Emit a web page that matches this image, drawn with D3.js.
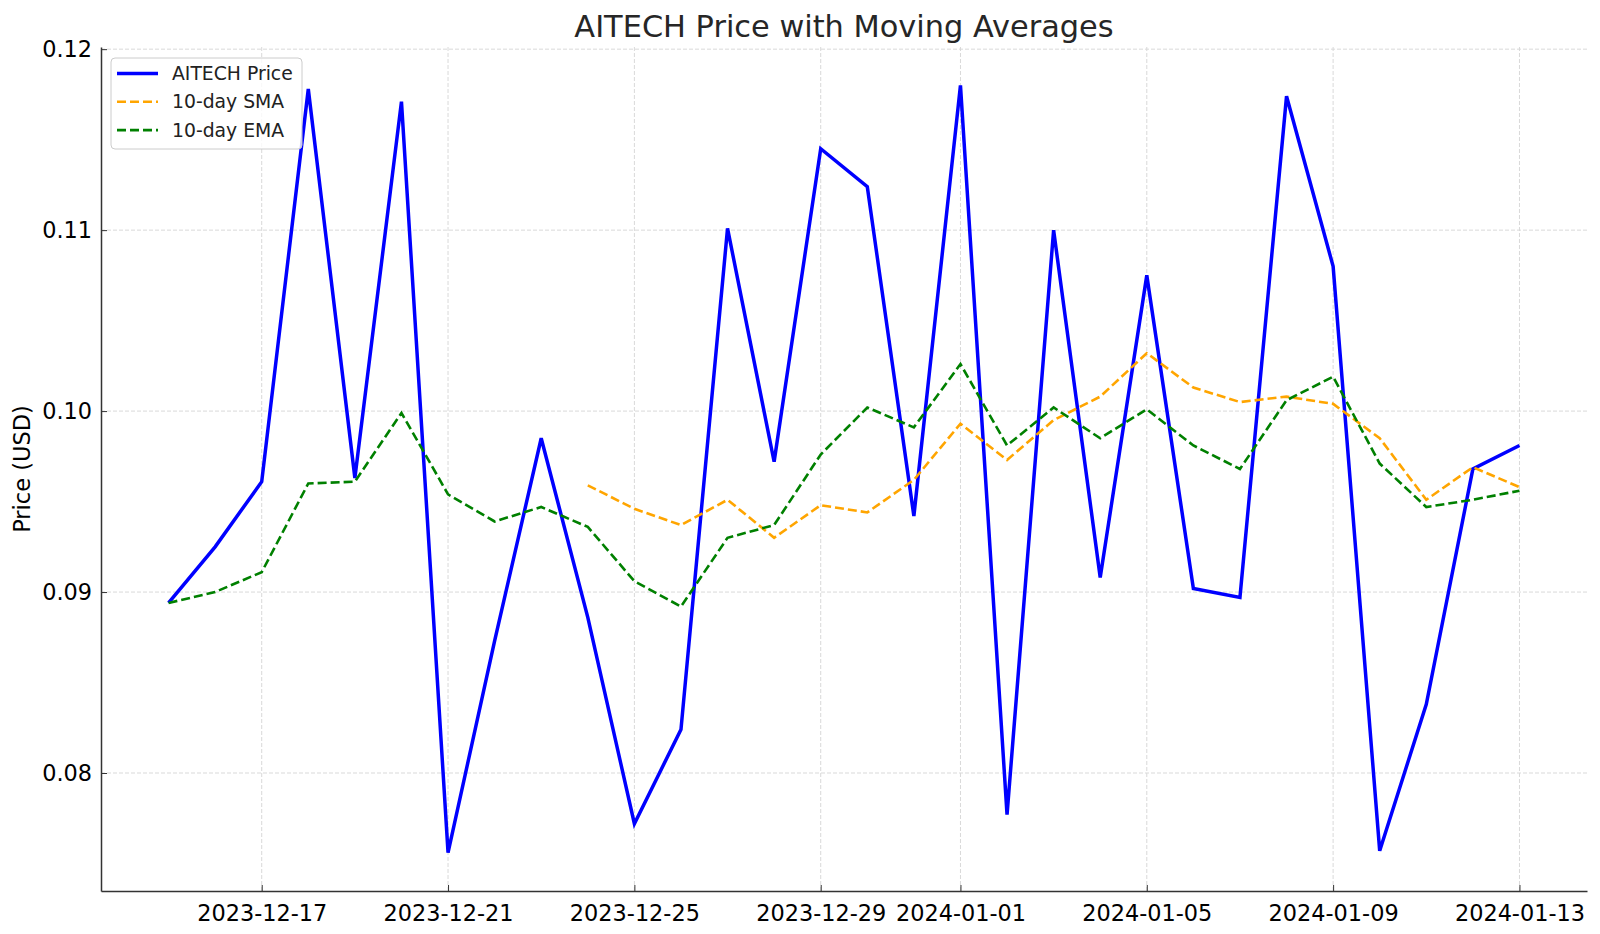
<!DOCTYPE html>
<html>
<head>
<meta charset="utf-8">
<script src="https://cdn.jsdelivr.net/npm/d3@7"></script>
<style>
  body { margin: 0; background: #fff; }
  svg { display: block; font-family: "DejaVu Sans", sans-serif; }
</style>
</head>
<body>
<div id="chart"></div>
<script>
var dates = ['2023-12-15', '2023-12-16', '2023-12-17', '2023-12-18', '2023-12-19', '2023-12-20',
    '2023-12-21', '2023-12-22', '2023-12-23', '2023-12-24', '2023-12-25', '2023-12-26',
    '2023-12-27', '2023-12-28', '2023-12-29', '2023-12-30', '2023-12-31', '2024-01-01',
    '2024-01-02', '2024-01-03', '2024-01-04', '2024-01-05', '2024-01-06', '2024-01-07',
    '2024-01-08', '2024-01-09', '2024-01-10', '2024-01-11', '2024-01-12', '2024-01-13'];

var price = [0.0894, 0.0925, 0.0961, 0.1178, 0.0963, 0.1171, 0.0756, 0.0873, 0.0985, 0.0886,
    0.0772, 0.0824, 0.1101, 0.0972, 0.1145, 0.1124, 0.0942, 0.1180, 0.0777, 0.1100,
    0.0908, 0.1075, 0.0902, 0.0897, 0.1174, 0.1080, 0.0757, 0.0838, 0.0968, 0.0981];

// first 9 days have no 10-day SMA
var sma = [null, null, null, null, null, null, null, null, null, 0.0959,
    0.0946, 0.0937, 0.0951, 0.0930, 0.0948, 0.0944, 0.0962, 0.0993, 0.0973, 0.0995,
    0.1008, 0.1032, 0.1013, 0.1005, 0.1008, 0.1004, 0.0985, 0.0951, 0.0969, 0.0958];

var ema = [0.0894, 0.0900, 0.0911, 0.0960, 0.0961, 0.0999, 0.0954, 0.0939, 0.0947, 0.0936,
    0.0906, 0.0892, 0.0930, 0.0937, 0.0976, 0.1002, 0.0991, 0.1026, 0.0981, 0.1002,
    0.0985, 0.1001, 0.0981, 0.0968, 0.1006, 0.1019, 0.0971, 0.0947, 0.0951, 0.0956];

var xTicks = ['2023-12-17', '2023-12-21', '2023-12-25', '2023-12-29',
    '2024-01-01', '2024-01-05', '2024-01-09', '2024-01-13'];
var yTicks = [0.08, 0.09, 0.10, 0.11, 0.12];

var width = 1600,
    height = 934,
    margin = {top: 47, right: 13, bottom: 43, left: 101};

var parse = d3.utcParse('%Y-%m-%d');
var days = dates.map(parse);

var svg = d3.select('#chart').append('svg')
    .attr('width', width)
    .attr('height', height);

// matplotlib-like 5% padding on both axes
var xExt = d3.extent(days),
    xPad = (xExt[1] - xExt[0]) * 0.05;
var x = d3.scaleUtc()
    .domain([new Date(+xExt[0] - xPad), new Date(+xExt[1] + xPad)])
    .range([margin.left, width - margin.right]);

var allVals = price.concat(ema, sma.filter(function(d) { return d !== null; }));
var yExt = d3.extent(allVals),
    yPad = (yExt[1] - yExt[0]) * 0.05;
var y = d3.scaleLinear()
    .domain([yExt[0] - yPad, yExt[1] + yPad])
    .range([height - margin.bottom, margin.top]);

// grid
var grid = svg.append('g')
    .attr('stroke', '#d9d9d9')
    .attr('stroke-width', 1)
    .attr('stroke-dasharray', '4,2');

grid.selectAll('.gx')
    .data(xTicks.map(parse))
    .enter()
    .append('line')
    .attr('x1', function(d) { return x(d); })
    .attr('x2', function(d) { return x(d); })
    .attr('y1', margin.top)
    .attr('y2', height - margin.bottom);

grid.selectAll('.gy')
    .data(yTicks)
    .enter()
    .append('line')
    .attr('x1', margin.left)
    .attr('x2', width - margin.right)
    .attr('y1', function(d) { return y(d); })
    .attr('y2', function(d) { return y(d); });

// lines
function makeLine(values) {
    return d3.line()
        .defined(function(d, i) { return values[i] !== null; })
        .x(function(d, i) { return x(days[i]); })
        .y(function(d, i) { return y(values[i]); })(values);
}

var series = [
    {name: 'AITECH Price', values: price, color: '#0000ff', width: 3.5, dash: null},
    {name: '10-day SMA', values: sma, color: '#ffa500', width: 2.6, dash: '9,4'},
    {name: '10-day EMA', values: ema, color: '#008000', width: 2.6, dash: '9,4'}
];

svg.append('g')
    .selectAll('path')
    .data(series)
    .enter()
    .append('path')
    .attr('d', function(d) { return makeLine(d.values); })
    .attr('fill', 'none')
    .attr('stroke', function(d) { return d.color; })
    .attr('stroke-width', function(d) { return d.width; })
    .attr('stroke-dasharray', function(d) { return d.dash; })
    .attr('stroke-linejoin', 'miter');

// axes
var xAxis = svg.append('g')
    .attr('transform', 'translate(0,' + (height - margin.bottom) + ')')
    .call(d3.axisBottom(x)
        .tickValues(xTicks.map(parse))
        .tickFormat(d3.utcFormat('%Y-%m-%d'))
        .tickSizeInner(-6)
        .tickSizeOuter(0)
        .tickPadding(14));

var yAxis = svg.append('g')
    .attr('transform', 'translate(' + margin.left + ',0)')
    .call(d3.axisLeft(y)
        .tickValues(yTicks)
        .tickFormat(d3.format('.2f'))
        .tickSizeInner(-6)
        .tickSizeOuter(0)
        .tickPadding(9));

[xAxis, yAxis].forEach(function(a) {
    a.select('.domain').attr('stroke', '#333').attr('stroke-width', 1.5);
    a.selectAll('.tick line').attr('stroke', '#333').attr('stroke-width', 1);
    a.selectAll('.tick text')
        .attr('fill', '#000')
        .style('font-size', '22.4px')
        .style('font-family', '"DejaVu Sans", sans-serif');
});

// title and label
svg.append('text')
    .attr('x', (margin.left + width - margin.right) / 2)
    .attr('y', 37)
    .attr('text-anchor', 'middle')
    .attr('fill', '#262626')
    .style('font-size', '30.4px')
    .text('AITECH Price with Moving Averages');

svg.append('text')
    .attr('transform', 'translate(30,' + ((margin.top + height - margin.bottom) / 2) + ') rotate(-90)')
    .attr('text-anchor', 'middle')
    .attr('fill', '#000')
    .style('font-size', '22.5px')
    .text('Price (USD)');

// legend
var legend = svg.append('g')
    .attr('transform', 'translate(111,58)');

legend.append('rect')
    .attr('width', 191)
    .attr('height', 91)
    .attr('rx', 4)
    .attr('fill', 'rgba(255,255,255,0.8)')
    .attr('stroke', '#cccccc')
    .attr('stroke-width', 1);

var rows = legend.selectAll('.row')
    .data(series)
    .enter()
    .append('g')
    .attr('transform', function(d, i) { return 'translate(0,' + (15.5 + i * 28.3) + ')'; });

rows.append('line')
    .attr('x1', 6)
    .attr('x2', 47)
    .attr('stroke', function(d) { return d.color; })
    .attr('stroke-width', function(d) { return d.width; })
    .attr('stroke-dasharray', function(d) { return d.dash; });

rows.append('text')
    .attr('x', 61)
    .attr('dy', '0.35em')
    .attr('fill', '#222')
    .style('font-size', '18.8px')
    .text(function(d) { return d.name; });
</script>
</body>
</html>
